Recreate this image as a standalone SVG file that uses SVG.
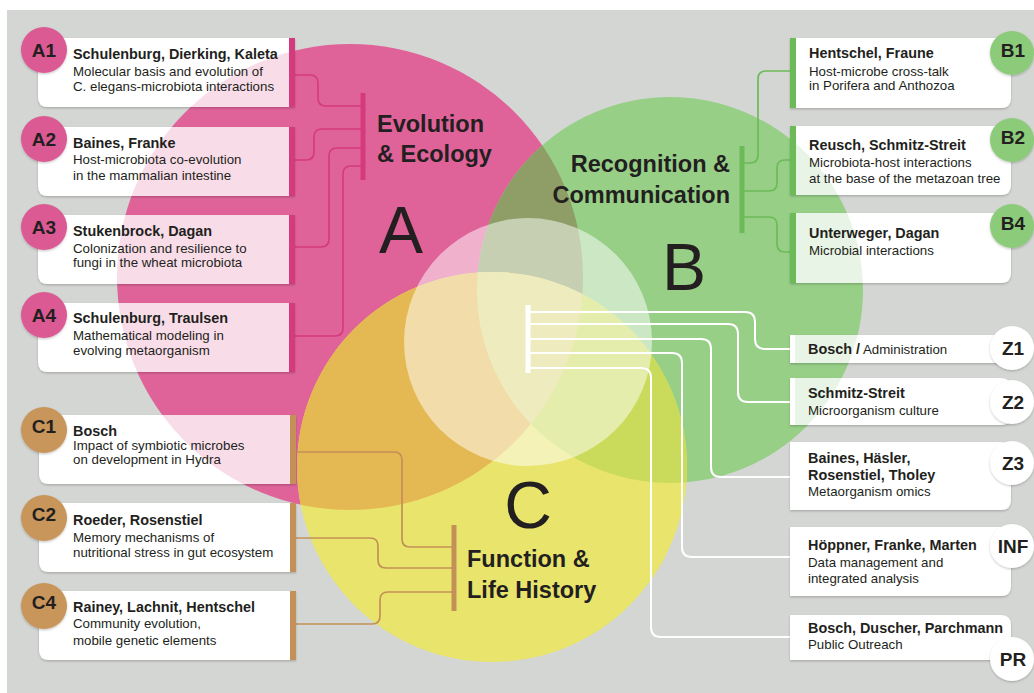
<svg xmlns="http://www.w3.org/2000/svg" xmlns:xlink="http://www.w3.org/1999/xlink" width="1034" height="693" viewBox="0 0 1034 693">
<style>
text{font-family:"Liberation Sans",Arial,sans-serif;fill:#231f20}
.nm{font-weight:bold;font-size:14.4px}
.ds{font-size:13.3px}
.bd{font-weight:bold;font-size:19px;text-anchor:middle}
.tt{font-weight:bold;font-size:23.5px}
.big{font-size:66px;text-anchor:middle}
.box{fill:#fff;filter:url(#sh)}
.tint{opacity:.22}
.barA{fill:#d63a7e}.barB{fill:#6cbb58}.barC{fill:#c39058}.barZ{fill:#fff}
.bA{fill:#dc5a93;filter:url(#sh)}.bB{fill:#8ccb7a;filter:url(#sh)}.bC{fill:#c8955a;filter:url(#sh)}.bZ{fill:#fff;filter:url(#sh)}
.cA,.cB,.cC,.cZ{fill:none}
.cA{stroke:#d63a7e;stroke-width:1.7}
.cB{stroke:#6cbb58;stroke-width:1.7}
.cC{stroke:#c39058;stroke-width:1.7}
.cZ{stroke:#fff;stroke-width:2}
</style>
<defs>
<filter id="sh" x="-10%" y="-10%" width="120%" height="130%"><feDropShadow dx="0" dy="1.2" stdDeviation="1.2" flood-color="#000" flood-opacity="0.22"/></filter>
<clipPath id="clA"><circle cx="350" cy="277" r="233"/></clipPath>
<clipPath id="clB"><circle cx="670" cy="290" r="193"/></clipPath>
<g id="vennBase">
<circle cx="350" cy="277" r="233" fill="#df6399"/>
<circle cx="670" cy="290" r="193" fill="#97cf87"/>
<circle cx="492" cy="467" r="195" fill="#e8e46c"/>
<circle cx="670" cy="290" r="193" fill="#8f9e67" clip-path="url(#clA)"/>
<circle cx="492" cy="467" r="195" fill="#e4b852" clip-path="url(#clA)"/>
<circle cx="492" cy="467" r="195" fill="#cadb5b" clip-path="url(#clB)"/>
<g clip-path="url(#clA)"><circle cx="492" cy="467" r="195" fill="#dcd87f" clip-path="url(#clB)"/></g>
</g>
<path id="pA1" d="M295,38V107H48Q38,107 38,97V48Q38,38 48,38Z"/>
<path id="pA2" d="M295,127V196H48Q38,196 38,186V137Q38,127 48,127Z"/>
<path id="pA3" d="M295,215V284H48Q38,284 38,274V225Q38,215 48,215Z"/>
<path id="pA4" d="M295,303V372H48Q38,372 38,362V313Q38,303 48,303Z"/>
<path id="pC1" d="M296,415V484H49Q39,484 39,474V425Q39,415 49,415Z"/>
<path id="pC2" d="M296,503V572H49Q39,572 39,562V513Q39,503 49,503Z"/>
<path id="pC4" d="M296,591V660H49Q39,660 39,650V601Q39,591 49,591Z"/>
<path id="pB1" d="M790,38H1001Q1011,38 1011,48V98Q1011,108 1001,108H790Z"/>
<path id="pB2" d="M790,126H1001Q1011,126 1011,136V185Q1011,195 1001,195H790Z"/>
<path id="pB4" d="M790,213H1001Q1011,213 1011,223V273Q1011,283 1001,283H790Z"/>
<path id="pZ1" d="M790,335H1001Q1011,335 1011,345V353Q1011,363 1001,363H790Z"/>
<path id="pZ2" d="M790,378H1001Q1011,378 1011,388V415Q1011,425 1001,425H790Z"/>
<path id="pZ3" d="M790,442H1001Q1011,442 1011,452V500Q1011,510 1001,510H790Z"/>
<path id="pINF" d="M790,527H1001Q1011,527 1011,537V586Q1011,596 1001,596H790Z"/>
<path id="pPR" d="M790,615H1001Q1011,615 1011,625V650Q1011,660 1001,660H790Z"/>
<clipPath id="kA1"><use xlink:href="#pA1"/></clipPath>
<clipPath id="kA2"><use xlink:href="#pA2"/></clipPath>
<clipPath id="kA3"><use xlink:href="#pA3"/></clipPath>
<clipPath id="kA4"><use xlink:href="#pA4"/></clipPath>
<clipPath id="kC1"><use xlink:href="#pC1"/></clipPath>
<clipPath id="kC2"><use xlink:href="#pC2"/></clipPath>
<clipPath id="kB2"><use xlink:href="#pB2"/></clipPath>
<clipPath id="kB4"><use xlink:href="#pB4"/></clipPath>
<clipPath id="kZ1"><use xlink:href="#pZ1"/></clipPath>
<clipPath id="kZ2"><use xlink:href="#pZ2"/></clipPath>
<clipPath id="kZ3"><use xlink:href="#pZ3"/></clipPath>
</defs>

<rect x="0" y="0" width="1034" height="693" fill="#fff"/>
<rect x="7" y="10" width="1027" height="683" fill="#d4d6d3"/>

<g id="venn">
<use xlink:href="#vennBase"/>
<circle cx="528" cy="342" r="124" fill="#fff" opacity="0.5"/>
</g>

<g id="headings">
<text class="tt" x="377" y="132">Evolution</text>
<text class="tt" x="377" y="162">&amp; Ecology</text>
<text class="big" x="401" y="253">A</text>
<text class="tt" x="730" y="172" text-anchor="end">Recognition &amp;</text>
<text class="tt" x="730" y="203" text-anchor="end">Communication</text>
<text class="big" x="684" y="290">B</text>
<text class="big" x="528" y="528">C</text>
<text class="tt" x="467" y="567">Function &amp;</text>
<text class="tt" x="467" y="598">Life History</text>
</g>

<g id="connectors">
<rect class="barA" x="360.5" y="93" width="5" height="87"/>
<path class="cA" d="M295,75H310Q318,75 318,83V98Q318,106 326,106H361"/>
<path class="cA" d="M295,160H306Q314,160 314,152V137Q314,129 322,129H361"/>
<path class="cA" d="M295,247H321Q329,247 329,239V156Q329,148 337,148H361"/>
<path class="cA" d="M295,336H335Q343,336 343,328V174Q343,166 351,166H361"/>
<rect class="barB" x="739.5" y="146" width="5" height="87"/>
<path class="cB" d="M744,163H750Q758,163 758,155V79Q758,71 766,71H790"/>
<path class="cB" d="M744,191H769Q777,191 777,183V168Q777,160 785,160H790"/>
<path class="cB" d="M744,217H769Q777,217 777,225V244Q777,252 785,252H790"/>
<rect class="barC" x="451.5" y="525" width="5" height="86"/>
<path class="cC" d="M296,452H394Q402,452 402,460V539Q402,547 410,547H452"/>
<path class="cC" d="M296,538H370Q378,538 378,546V560Q378,568 386,568H452"/>
<path class="cC" d="M296,624H372Q380,624 380,616V600Q380,592 388,592H452"/>
<rect class="barZ" x="525.5" y="305" width="5" height="68"/>
<path class="cZ" d="M530,312H745Q755,312 755,322V339Q755,349 765,349H790"/>
<path class="cZ" d="M530,324H728Q738,324 738,334V392Q738,402 748,402H790"/>
<path class="cZ" d="M530,339H701Q711,339 711,349V467Q711,477 721,477H790"/>
<path class="cZ" d="M530,353H672Q682,353 682,363V547Q682,557 692,557H790"/>
<path class="cZ" d="M530,368H641Q651,368 651,378V627Q651,637 661,637H790"/>
</g>

<g id="A1">
<use xlink:href="#pA1" class="box"/><use xlink:href="#vennBase" class="tint" clip-path="url(#kA1)"/>
<rect class="barA" x="289" y="38" width="6" height="69"/>
<circle class="bA" cx="44" cy="50" r="23"/><text class="bd" x="44" y="57">A1</text>
<text class="nm" x="73" y="59">Schulenburg, Dierking, Kaleta</text>
<text class="ds" x="73" y="76">Molecular basis and evolution of</text>
<text class="ds" x="73" y="91">C. elegans-microbiota interactions</text>
</g>
<g id="A2">
<use xlink:href="#pA2" class="box"/><use xlink:href="#vennBase" class="tint" clip-path="url(#kA2)"/>
<rect class="barA" x="289" y="127" width="6" height="69"/>
<circle class="bA" cx="44" cy="139" r="23"/><text class="bd" x="44" y="146">A2</text>
<text class="nm" x="73" y="148">Baines, Franke</text>
<text class="ds" x="73" y="164">Host-microbiota co-evolution</text>
<text class="ds" x="73" y="180">in the mammalian intestine</text>
</g>
<g id="A3">
<use xlink:href="#pA3" class="box"/><use xlink:href="#vennBase" class="tint" clip-path="url(#kA3)"/>
<rect class="barA" x="289" y="215" width="6" height="69"/>
<circle class="bA" cx="44" cy="227" r="23"/><text class="bd" x="44" y="234">A3</text>
<text class="nm" x="73" y="236">Stukenbrock, Dagan</text>
<text class="ds" x="73" y="253">Colonization and resilience to</text>
<text class="ds" x="73" y="267">fungi in the wheat microbiota</text>
</g>
<g id="A4">
<use xlink:href="#pA4" class="box"/><use xlink:href="#vennBase" class="tint" clip-path="url(#kA4)"/>
<rect class="barA" x="289" y="303" width="6" height="69"/>
<circle class="bA" cx="44" cy="315" r="23"/><text class="bd" x="44" y="322">A4</text>
<text class="nm" x="73" y="323">Schulenburg, Traulsen</text>
<text class="ds" x="73" y="340">Mathematical modeling in</text>
<text class="ds" x="73" y="355">evolving metaorganism</text>
</g>

<g id="C1">
<use xlink:href="#pC1" class="box"/><use xlink:href="#vennBase" class="tint" clip-path="url(#kC1)"/>
<rect class="barC" x="290" y="415" width="6" height="69"/>
<circle class="bC" cx="44" cy="430" r="23"/><text class="bd" x="44" y="433">C1</text>
<text class="nm" x="73" y="436">Bosch</text>
<text class="ds" x="73" y="450">Impact of symbiotic microbes</text>
<text class="ds" x="73" y="464">on development in Hydra</text>
</g>
<g id="C2">
<use xlink:href="#pC2" class="box"/><use xlink:href="#vennBase" class="tint" clip-path="url(#kC2)"/>
<rect class="barC" x="290" y="503" width="6" height="69"/>
<circle class="bC" cx="44" cy="518" r="23"/><text class="bd" x="44" y="521">C2</text>
<text class="nm" x="73" y="525">Roeder, Rosenstiel</text>
<text class="ds" x="73" y="542">Memory mechanisms of</text>
<text class="ds" x="73" y="557">nutritional stress in gut ecosystem</text>
</g>
<g id="C4">
<use xlink:href="#pC4" class="box"/>
<rect class="barC" x="290" y="591" width="6" height="69"/>
<circle class="bC" cx="44" cy="606" r="23"/><text class="bd" x="44" y="609">C4</text>
<text class="nm" x="73" y="612">Rainey, Lachnit, Hentschel</text>
<text class="ds" x="73" y="628">Community evolution,</text>
<text class="ds" x="73" y="645">mobile genetic elements</text>
</g>

<g id="B1">
<use xlink:href="#pB1" class="box"/>
<rect class="barB" x="790" y="38" width="6" height="70"/>
<circle class="bB" cx="1012" cy="53" r="22"/><text class="bd" x="1013" y="57">B1</text>
<text class="nm" x="809" y="58">Hentschel, Fraune</text>
<text class="ds" x="809" y="76">Host-microbe cross-talk</text>
<text class="ds" x="809" y="90">in Porifera and Anthozoa</text>
</g>
<g id="B2">
<use xlink:href="#pB2" class="box"/><use xlink:href="#vennBase" class="tint" clip-path="url(#kB2)"/>
<rect class="barB" x="790" y="126" width="6" height="69"/>
<circle class="bB" cx="1012" cy="140" r="22"/><text class="bd" x="1013" y="144">B2</text>
<text class="nm" x="809" y="150">Reusch, Schmitz-Streit</text>
<text class="ds" x="809" y="167">Microbiota-host interactions</text>
<text class="ds" x="809" y="183">at the base of the metazoan tree</text>
</g>
<g id="B4">
<use xlink:href="#pB4" class="box"/><use xlink:href="#vennBase" class="tint" clip-path="url(#kB4)"/>
<rect class="barB" x="790" y="213" width="6" height="70"/>
<circle class="bB" cx="1012" cy="226" r="22"/><text class="bd" x="1013" y="230">B4</text>
<text class="nm" x="809" y="238">Unterweger, Dagan</text>
<text class="ds" x="809" y="255">Microbial interactions</text>
</g>

<g id="Z1">
<use xlink:href="#pZ1" class="box"/><use xlink:href="#vennBase" class="tint" clip-path="url(#kZ1)"/>
<rect class="barZ" x="790" y="335" width="5" height="28"/>
<circle class="bZ" cx="1012" cy="348" r="22"/><text class="bd" x="1013" y="355">Z1</text>
<text x="808" y="354"><tspan class="nm">Bosch /</tspan><tspan class="ds"> Administration</tspan></text>
</g>
<g id="Z2">
<use xlink:href="#pZ2" class="box"/><use xlink:href="#vennBase" class="tint" clip-path="url(#kZ2)"/>
<rect class="barZ" x="790" y="378" width="5" height="47"/>
<circle class="bZ" cx="1012" cy="402" r="22"/><text class="bd" x="1013" y="409">Z2</text>
<text class="nm" x="808" y="398">Schmitz-Streit</text>
<text class="ds" x="808" y="415">Microorganism culture</text>
</g>
<g id="Z3">
<use xlink:href="#pZ3" class="box"/><use xlink:href="#vennBase" class="tint" clip-path="url(#kZ3)"/>
<rect class="barZ" x="790" y="442" width="5" height="68"/>
<circle class="bZ" cx="1012" cy="463" r="22"/><text class="bd" x="1013" y="470">Z3</text>
<text class="nm" x="808" y="463">Baines, Häsler,</text>
<text class="nm" x="808" y="480">Rosenstiel, Tholey</text>
<text class="ds" x="808" y="496">Metaorganism omics</text>
</g>
<g id="INF">
<use xlink:href="#pINF" class="box"/>
<rect class="barZ" x="790" y="527" width="5" height="69"/>
<circle class="bZ" cx="1012" cy="546" r="22"/><text class="bd" x="1013" y="553">INF</text>
<text class="nm" x="808" y="550">Höppner, Franke, Marten</text>
<text class="ds" x="808" y="567">Data management and</text>
<text class="ds" x="808" y="583">integrated analysis</text>
</g>
<g id="PR">
<use xlink:href="#pPR" class="box"/>
<rect class="barZ" x="790" y="615" width="5" height="45"/>
<circle class="bZ" cx="1012" cy="659" r="22"/><text class="bd" x="1013" y="666">PR</text>
<text class="nm" x="808" y="633">Bosch, Duscher, Parchmann</text>
<text class="ds" x="808" y="649">Public Outreach</text>
</g>
</svg>
